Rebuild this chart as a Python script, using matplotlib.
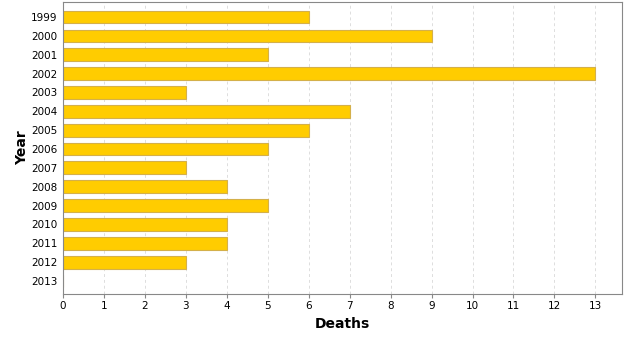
import matplotlib.pyplot as plt

years = ["1999", "2000", "2001", "2002", "2003", "2004", "2005", "2006",
         "2007", "2008", "2009", "2010", "2011", "2012", "2013"]
deaths = [6, 9, 5, 13, 3, 7, 6, 5, 3, 4, 5, 4, 4, 3, 0]

fig = plt.figure(figsize=(6.3, 3.37), dpi=100)
ax = fig.add_axes([63 / 630, 1 - 294 / 337, (622 - 63) / 630, (294 - 2) / 337])

pos = list(range(len(years)))
ax.barh(pos, deaths, height=0.68, color="#ffcc00", edgecolor="#d4b04a", linewidth=0.8, zorder=2)

ax.set_ylim(14.69, -0.8)
ax.set_xlim(0, 13.65)
ax.set_xticks(range(14))
ax.set_yticks(pos)
ax.set_yticklabels(years)
ax.tick_params(labelsize=7.5, length=3, color="#888888", pad=2)
ax.tick_params(axis="y", length=0, pad=4)
ax.xaxis.grid(True, linestyle=(0, (3, 3)), color="#dddddd", linewidth=0.7, zorder=0)
for s in ax.spines.values():
    s.set_color("#888888")

ax.set_xlabel("Deaths", fontsize=10, fontweight="bold", labelpad=4)
ax.set_ylabel("Year", fontsize=10, fontweight="bold", labelpad=1)

fig.savefig("out.png", dpi=100)
